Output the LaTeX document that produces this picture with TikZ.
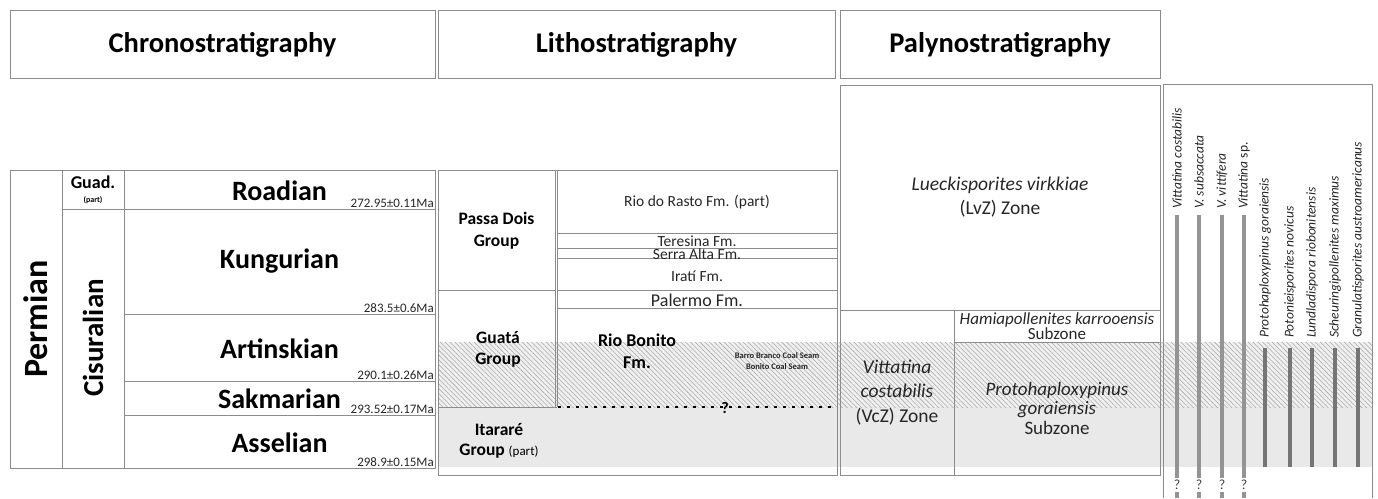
\documentclass[tikz,border=0pt]{standalone}
\usepackage{fontspec}
\setmainfont{Carlito}
\usetikzlibrary{patterns,patterns.meta}
\newcommand\fsz[1]{\fontsize{#1}{#1}\selectfont}
\definecolor{linec}{gray}{0.55}
\definecolor{bandgrey}{gray}{0.915}
\definecolor{hatchbg}{gray}{0.94}
\definecolor{hatchc}{gray}{0.66}
\definecolor{vitc}{gray}{0.58}
\definecolor{spc}{gray}{0.46}
\tikzset{
  box/.style={draw=linec, line width=0.9pt},
  hdr/.style={font=\fsz{28.5}\bfseries, anchor=base, inner sep=0pt},
  stg/.style={font=\fsz{28}\bfseries, anchor=base, inner sep=0pt},
  age/.style={font=\fsz{13}, anchor=base east, inner sep=0pt, text=black!85},
  grp/.style={font=\fsz{17.5}\bfseries, anchor=base, inner sep=0pt},
  fm/.style={font=\fsz{15.5}, anchor=base, inner sep=0pt, text=black!85},
  zn/.style={font=\fsz{19.5}, anchor=base, inner sep=0pt, text=black!85},
  sub/.style={font=\fsz{17}, anchor=base, inner sep=0pt, text=black!85},
  spl/.style={font=\fsz{13.5}\itshape, rotate=90, anchor=west, inner sep=0pt, text=black!85},
  vit/.style={draw=vitc, line width=3.6pt},
  spr/.style={draw=spc, line width=3.6pt},
  qm/.style={font=\fsz{14}, inner sep=0pt, text=black!75},
  dashline/.style={draw=black, line width=1.6pt, dash pattern=on 3pt off 6pt}
}
\begin{document}
\begin{tikzpicture}[x=1pt,y=-1pt]
\useasboundingbox (0,0) rectangle (1378,498);
% background bands
\fill[bandgrey] (438,407) rectangle (1372,467);
\fill[hatchbg] (438,342) rectangle (1372,407);
\fill[pattern={Lines[angle=-45, distance=3.4pt, line width=0.55pt]}, pattern color=hatchc] (438,342) rectangle (1372,407);

% headers
\draw[box] (10,10) rectangle (435,78);
\draw[box] (438,10) rectangle (835,78);
\draw[box] (840,10) rectangle (1160,78);
\node[hdr] (hchrono) at (222.5,52) {Chronostratigraphy};
\node[hdr] (hlitho) at (636.5,52) {Lithostratigraphy};
\node[hdr] (hpaly) at (1000,52) {Palynostratigraphy};

% chronostratigraphy
\draw[box] (10,170) rectangle (435,468);
\draw[box] (62,170) -- (62,468);
\draw[box] (124,170) -- (124,468);
\draw[box] (62,209) -- (435,209);
\draw[box] (124,314) -- (435,314);
\draw[box] (124,381) -- (435,381);
\draw[box] (124,415) -- (435,415);
\node[font=\fsz{34}\bfseries, rotate=90, inner sep=0pt] (perm) at (36,319) {Permian};
\node[font=\fsz{29}\bfseries, rotate=90, inner sep=0pt] (cisu) at (93,338) {Cisuralian};
\node[font=\fsz{18}\bfseries, anchor=base, inner sep=0pt] (guad) at (93,188) {Guad.};
\node[font=\fsz{8}\bfseries, anchor=base, inner sep=0pt] (guadp) at (93,202) {(part)};
\node[stg] (road) at (279.5,200) {Roadian};
\node[stg] (kung) at (279.5,268) {Kungurian};
\node[stg] (arti) at (279.5,358) {Artinskian};
\node[stg] (sakm) at (279.5,408) {Sakmarian};
\node[stg] (asse) at (279.5,452) {Asselian};
\node[age] (a1) at (434,207) {272.95±0.11Ma};
\node[age] (a2) at (434,312) {283.5±0.6Ma};
\node[age] (a3) at (434,379) {290.1±0.26Ma};
\node[age] (a4) at (434,413) {293.52±0.17Ma};
\node[age] (a5) at (434,466) {298.9±0.15Ma};

% lithostratigraphy
\draw[box] (438,170) rectangle (837,475);
\draw[box] (555,170) -- (555,407);
\draw[box] (557,170) -- (557,407);
\draw[box] (438,290) -- (555,290);
\foreach \yy in {233,248,258,290,308} { \draw[box] (557,\yy) -- (837,\yy); }
\draw[box] (438,407) -- (557,407);
\coordinate (dl) at (558,407);
\coordinate (dr) at (836,407);
\draw[dashline] (dl) -- (dr);
\node[font=\fsz{16}\bfseries, inner sep=0pt] (qmark) at (725,408) {?};
\node[grp] (pd1) at (496.5,224) {Passa Dois};
\node[grp] (pd2) at (496.5,246) {Group};
\node[grp] (gu1) at (498,343) {Guatá};
\node[grp] (gu2) at (498,364) {Group};
\node[grp] (it1) at (499,435) {Itararé};
\node[grp] (it2) at (499,455) {Group {\mdseries\fsz{13}(part)}};
\node[fm] (rr) at (697,206) {Rio do Rasto Fm. (part)};
\node[fm] (te) at (697,246.5) {Teresina Fm.};
\node[fm] (sa) at (697,259.5) {Serra Alta Fm.};
\node[fm] (ir) at (697,281) {Iratí Fm.};
\node[fm, font=\fsz{18}] (pa) at (697,306) {Palermo Fm.};
\node[grp, font=\fsz{18}\bfseries] (rb1) at (637,346) {Rio Bonito};
\node[grp, font=\fsz{18}\bfseries] (rb2) at (637,368) {Fm.};
\node[font=\fsz{8.5}\bfseries, anchor=base, inner sep=0pt, text=black!85] (cs1) at (777,358) {Barro Branco Coal Seam};
\node[font=\fsz{8.5}\bfseries, anchor=base, inner sep=0pt, text=black!85] (cs2) at (777,369) {Bonito Coal Seam};

% palynostratigraphy
\draw[box] (840,85) rectangle (1160,475);
\draw[box] (840,310) -- (1160,310);
\draw[box] (954,310) -- (954,475);
\draw[box] (954,342) -- (1160,342);
\node[zn] (lv1) at (1000,190) {\itshape Lueckisporites virkkiae};
\node[zn] (lv2) at (1000,214) {(LvZ) Zone};
\node[sub] (hk1) at (1057,324) {\itshape Hamiapollenites karrooensis};
\node[sub] (hk2) at (1057,339) {Subzone};
\node[zn] (vc1) at (897,373) {\itshape Vittatina};
\node[zn] (vc2) at (897,397) {\itshape costabilis};
\node[zn] (vc3) at (897,422) {(VcZ) Zone};
\node[zn, font=\fsz{19}] (pg1) at (1057,395) {\itshape Protohaploxypinus};
\node[zn, font=\fsz{19}] (pg2) at (1057,414) {\itshape goraiensis};
\node[zn, font=\fsz{19}] (pg3) at (1057,434) {Subzone};

% species ranges
\draw[box] (1163,498) -- (1163,84) -- (1372,84) -- (1372,498);
\node[spl] (s1) at (1177,209) {Vittatina costabilis};
\node[spl] (s2) at (1199,209) {V. subsaccata};
\node[spl] (s3) at (1222,209) {V. vittifera};
\node[spl] (s4) at (1244,209) {Vittatina {\upshape sp.}};
\node[spl] (s5) at (1265,338) {Protohaploxypinus goraiensis};
\node[spl] (s6) at (1290,338) {Potonieisporites novicus};
\node[spl] (s7) at (1312,338) {Lundladispora riobonitensis};
\node[spl] (s8) at (1335,338) {Scheuringipollenites maximus};
\node[spl] (s9) at (1358,338) {Granulatisporites austroamericanus};
\foreach \i/\xx in {1/1177,2/1199,3/1222,4/1244} {
  \node[qm] (q\i) at (\xx,485) {?};
  \coordinate (vt\i) at (\xx,215);
  \coordinate (vm\i) at (\xx,478);
  \coordinate (vb\i) at (\xx,498);
  \draw[vit] (vt\i) -- (vm\i);
  \draw[vit] ([yshift=-2pt]q\i.south) -- (vb\i);
}
\foreach \i/\xx in {5/1265,6/1290,7/1312,8/1335,9/1358} {
  \coordinate (st\i) at (\xx,348);
  \coordinate (sb\i) at (\xx,467);
  \draw[spr] (st\i) -- (sb\i);
}
\end{tikzpicture}
\end{document}
